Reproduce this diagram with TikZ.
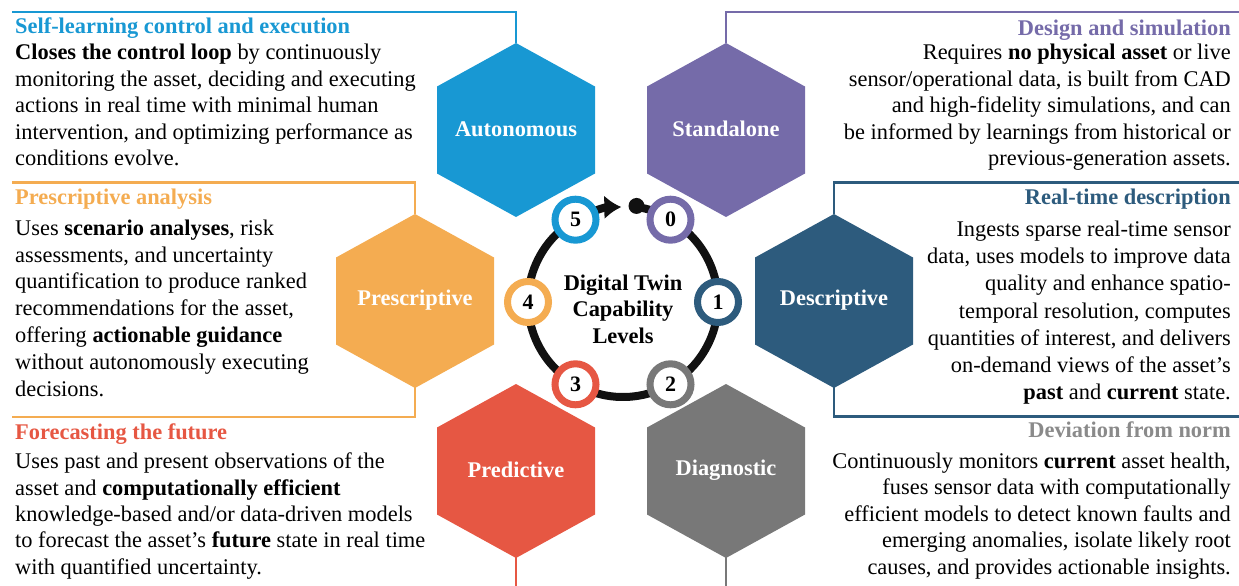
\documentclass[tikz,border=0pt]{standalone}
\usepackage{fontspec}
\setmainfont{Liberation Serif}
\usetikzlibrary{arrows.meta,calc}
\definecolor{cAut}{HTML}{1898D3}
\definecolor{cSta}{HTML}{756BA9}
\definecolor{cPre}{HTML}{F4AC51}
\definecolor{cDes}{HTML}{2D5B7D}
\definecolor{cPrd}{HTML}{E65743}
\definecolor{cDia}{HTML}{787878}
\definecolor{cDiaT}{HTML}{8A8A8A}
\definecolor{ringblack}{HTML}{111111}
\begin{document}
\begin{tikzpicture}[x=1pt,y=-1pt,
  hexlabel/.style={text=white,inner sep=0,font=\fontsize{22.4}{26.5}\selectfont\bfseries},
  desc/.style={inner sep=0,font=\fontsize{22.4}{26.5}\selectfont},
  bracket/.style={line width=2.5pt},
  ring/.style={line width=8pt,draw=ringblack},
  lvl/.style={circle,minimum size=41pt,line width=7pt,fill=white,inner sep=0,font=\fontsize{22}{24}\selectfont\bfseries}]
\useasboundingbox (0,0) rectangle (1239,586);

% hexagons
\foreach \n/\x/\y/\c/\t in {aut/516/129/cAut/Autonomous, sta/726/129/cSta/Standalone,
  pre/415/300/cPre/Prescriptive, des/834/300/cDes/Descriptive,
  prd/516/470/cPrd/Predictive, dia/726/470/cDia/Diagnostic}{
  \fill[\c] (\x,\y) ++(0,-86) -- ++(79,43.5) -- ++(0,87) -- ++(-79,43.5) -- ++(-79,-43.5) -- ++(0,-87) -- cycle;
  \node[hexlabel] (\n) at (\x,\y) {\t};
}

% brackets
\coordinate (autT) at ($(aut.center)+(0,-86)$);
\coordinate (staT) at ($(sta.center)+(0,-86)$);
\coordinate (preT) at ($(pre.center)+(0,-86)$);
\coordinate (preB) at ($(pre.center)+(0,86)$);
\coordinate (desT) at ($(des.center)+(0,-86)$);
\coordinate (desB) at ($(des.center)+(0,86)$);
\coordinate (prdB) at ($(prd.center)+(0,86)$);
\coordinate (diaB) at ($(dia.center)+(0,86)$);
\coordinate (autE) at (12,12);
\coordinate (staE) at (1239,12);
\coordinate (preTE) at (12,182.5);
\coordinate (preBE) at (12,417);
\coordinate (desTE) at (1239,182.5);
\coordinate (desBE) at (1239,416.5);
\coordinate (prdE) at (516,586);
\coordinate (diaE) at (726,586);
\draw[bracket,cAut] (autT) |- (autE);
\draw[bracket,cSta] (staT) |- (staE);
\draw[bracket,cPre] (preT) |- (preTE);
\draw[bracket,cPre] (preB) |- (preBE);
\draw[bracket,cDes] (desT) |- (desTE);
\draw[bracket,cDes] (desB) |- (desBE);
\draw[bracket,cPrd] (prdB) -- (prdE);
\draw[bracket,cDia] (diaB) -- (diaE);

% ring
\begin{scope}[shift={(623,302)},y=1pt]
\draw[ring] (60:95) arc[start angle=60,end angle=-240,radius=95];
\draw[ring,-{Latex[length=17pt,width=24pt]}] (120:95) arc[start angle=120,end angle=91,radius=95];
\fill[ringblack] (82:97) circle[radius=8];
\draw[ring] (82:96) arc[start angle=82,end angle=60,radius=95];
\end{scope}

\node[lvl,draw=cSta] (l0) at (670.5,219.7) {0};
\node[lvl,draw=cDes] (l1) at (718,302) {1};
\node[lvl,draw=cDia] (l2) at (670.5,384.3) {2};
\node[lvl,draw=cPrd] (l3) at (575.5,384.3) {3};
\node[lvl,draw=cPre] (l4) at (528,302) {4};
\node[lvl,draw=cAut] (l5) at (575.5,219.7) {5};

\node[align=center,inner sep=0,font=\fontsize{22.4}{26.5}\selectfont\bfseries] (ctitle) at (623,309) {Digital Twin\\Capability\\Levels};

% text blocks
\node[desc,anchor=north west,align=left] (t1) at (15,14.5) {\strut\textcolor{cAut}{\textbf{Self-learning control and execution}}\\
\textbf{Closes the control loop} by continuously\\
monitoring the asset, deciding and executing\\
actions in real time with minimal human\\
intervention, and optimizing performance as\\
conditions evolve.};

\node[desc,anchor=north east,align=right] (t2) at (1231,17) {\strut\textcolor{cSta}{\textbf{Design and simulation}}\\[-2.5pt]
Requires \textbf{no physical asset} or live\\
sensor/operational data, is built from CAD\\
and high-fidelity simulations, and can\\
be informed by learnings from historical or\\
previous-generation assets.};

\node[desc,anchor=north west,align=left,font=\fontsize{22.4}{26.8}\selectfont] (t3) at (15,185.5) {\strut\textcolor{cPre}{\textbf{Prescriptive analysis}}\\[4pt]
Uses \textbf{scenario analyses}, risk\\
assessments, and uncertainty\\
quantification to produce ranked\\
recommendations for the asset,\\
offering \textbf{actionable guidance}\\
without autonomously executing\\
decisions.};

\node[desc,anchor=north east,align=right,font=\fontsize{22.4}{27.3}\selectfont] (t4) at (1231,185.5) {\strut\textcolor{cDes}{\textbf{Real-time description}}\\[4pt]
Ingests sparse real-time sensor\\
data, uses models to improve data\\
quality and enhance spatio-\\
temporal resolution, computes\\
quantities of interest, and delivers\\
on-demand views of the asset’s\\
\textbf{past} and \textbf{current} state.};

\node[desc,anchor=north west,align=left,font=\fontsize{22.4}{26.3}\selectfont] (t5) at (15,420.5) {\strut\textcolor{cPrd}{\textbf{Forecasting the future}}\\[3.5pt]
Uses past and present observations of the\\
asset and \textbf{computationally efficient}\\
knowledge-based and/or data-driven models\\
to forecast the asset’s \textbf{future} state in real time\\
with quantified uncertainty.};

\node[desc,anchor=north east,align=right] (t6) at (1231,419) {\strut\textcolor{cDiaT}{\textbf{Deviation from norm}}\\[4pt]
Continuously monitors \textbf{current} asset health,\\
fuses sensor data with computationally\\
efficient models to detect known faults and\\
emerging anomalies, isolate likely root\\
causes, and provides actionable insights.};
\end{tikzpicture}
\end{document}
